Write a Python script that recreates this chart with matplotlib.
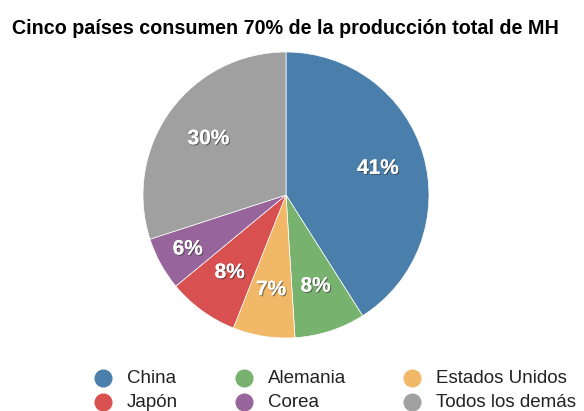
import matplotlib.pyplot as plt
import matplotlib.patheffects as pe
from matplotlib.lines import Line2D

plt.rcParams['font.family'] = ['Liberation Sans', 'DejaVu Sans']

paises = ["China", "Alemania", "Estados Unidos", "Japón", "Corea", "Todos los demás"]
porcentajes = [41, 8, 7, 8, 6, 30]
colores = ["#4a7fab", "#77b26f", "#f1b868", "#d8504f", "#97659c", "#a0a0a0"]

W, H = 584, 411
fig = plt.figure(figsize=(W / 100, H / 100), dpi=100)
ax = fig.add_axes([143 / W, (H - 195 - 143) / H, 286 / W, 286 / H])

wedges, texts, autotexts = ax.pie(
    porcentajes, colors=colores, startangle=90, counterclock=False,
    autopct="%d%%", pctdistance=0.67, radius=1,
    wedgeprops=dict(linewidth=0.5, edgecolor="white"),
)
ax.set_xlim(-1, 1)
ax.set_ylim(-1, 1)
ax.set_aspect("equal")

for i, t in enumerate(autotexts):
    t.set_color("white")
    t.set_fontsize(15)
    t.set_fontweight("bold")
    t.set_path_effects([pe.withSimplePatchShadow(offset=(0.8, -0.8), shadow_rgbFace="#333333", alpha=0.6), pe.Normal()])
    if paises[i] == "Corea":
        x, y = t.get_position()
        t.set_position((x * 1.17, y * 1.17))

fig.text(12 / W, 1 - 28 / H, "Cinco países consumen 70% de la producción total de MH",
         fontsize=14.2, fontweight="bold", va="center", ha="left")

# leyenda a mano: 3 columnas x 2 filas
col_x = [103, 244, 412]
fila_y = [378, 402]
for i, nombre in enumerate(paises):
    fila, col = i // 3, i % 3
    mx, my = col_x[col] / W, 1 - fila_y[fila] / H
    fig.add_artist(Line2D([mx], [my], marker="o", markersize=12, linestyle="",
                          color=colores[i], transform=fig.transFigure))
    fig.text(mx + 24 / W, my, nombre, fontsize=13.5, va="center", ha="left", color="#222222")

plt.savefig("out.png", dpi=100)
plt.close()
